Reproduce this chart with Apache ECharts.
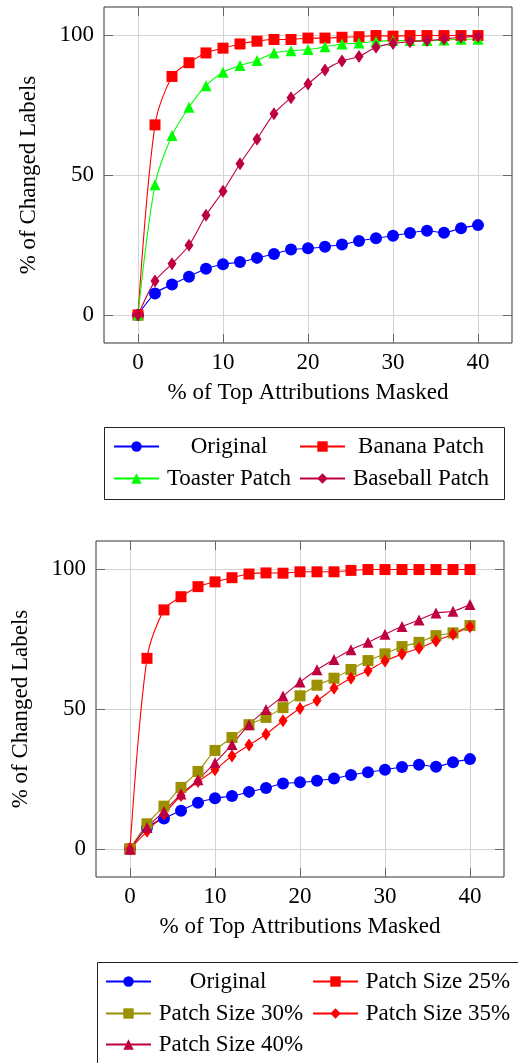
<!DOCTYPE html>
<html>
<head>
<meta charset="utf-8">
<script src="https://cdn.jsdelivr.net/npm/echarts@6/dist/echarts.min.js"></script>
<style>
html,body{margin:0;padding:0;background:#fff;}
#chart{width:518px;height:1063px;}
</style>
</head>
<body>
<div id="chart"></div>
<script>
// ---- data ----
const maskedPct = [0,2,4,6,8,10,12,14,16,18,20,22,24,26,28,30,32,34,36,38,40];
const xTicks = [0,10,20,30,40];
const yTicks = [0,50,100];

// top chart
const original = [0,7.7,10.9,13.7,16.5,18.1,18.9,20.4,21.8,23.4,23.8,24.4,25.2,26.4,27.4,28.3,29.3,30.1,29.4,31.0,32.1];
const bananaPatch = [0,67.9,85.2,90.1,93.6,95.3,96.8,97.8,98.4,98.4,98.9,98.9,99.2,99.4,99.8,99.6,99.8,99.8,99.8,99.8,99.8];
const toasterPatch = [0,46.5,64.1,74.2,81.9,86.7,89.1,90.9,93.6,94.4,94.8,95.8,96.8,97.1,97.7,98.0,98.0,98.0,98.2,98.5,98.5];
const baseballPatch = [0,12.1,18.3,24.9,35.6,44.2,54.0,62.8,71.9,77.6,82.5,87.5,90.7,92.3,95.6,97.0,97.6,98.0,98.6,99.2,99.5];

// bottom chart
const patch25 = [0,68.1,85.4,90.1,93.7,95.4,96.9,98.2,98.6,98.5,99.0,99.0,99.0,99.5,99.8,99.8,99.8,99.8,99.8,99.8,99.8];
const patch30 = [0,9.0,15.3,22.0,27.7,35.2,39.8,44.4,47.0,50.5,54.7,58.5,61.0,64.1,67.3,69.7,72.3,73.8,76.2,77.2,79.8];
const patch35 = [0,6.3,12.5,19.1,24.1,28.3,33.2,37.1,41.0,45.8,50.2,53.0,57.4,61.0,63.7,67.1,69.6,71.7,74.3,76.7,79.4];
const patch40 = [0,7.7,13.4,19.6,24.7,30.8,37.3,44.4,49.8,54.6,59.6,64.0,67.7,71.2,73.8,76.7,79.5,81.8,84.3,84.9,87.3];

const xTitle = '% of Top Attributions Masked';
const yTitle = '% of Changed Labels';

// ---- styling ----
const FONT = '"Liberation Serif", "DejaVu Serif", serif';
const FS = 23;
const C = {
  blue: '#0000ff', red: '#ff0000', green: '#00ff00', purple: '#bf0040', olive: '#9a9000'
};

function pairs(vals){ return maskedPct.map((x,i)=>[x, vals[i]]); }

const tickStyle = {show:true, inside:true, length:9, lineStyle:{color:'#666'}};

function mainX(gi){
  return {
    type:'value', gridIndex:gi, min:-4, max:44, position:'bottom',
    name:xTitle, nameLocation:'middle', nameGap:38,
    nameTextStyle:{fontFamily:FONT, fontSize:FS, color:'#000'},
    axisLine:{show:false, onZero:false},
    axisTick:Object.assign({customValues:xTicks}, tickStyle),
    axisLabel:{fontFamily:FONT, fontSize:FS, color:'#000', margin:8, customValues:xTicks},
    splitLine:{show:true, lineStyle:{color:'#d4d4d4', width:1}}
  };
}
function mirrorX(gi){
  return {
    type:'value', gridIndex:gi, min:-4, max:44, position:'top',
    axisLine:{show:false, onZero:false},
    axisTick:Object.assign({customValues:xTicks}, tickStyle),
    axisLabel:{show:false, customValues:xTicks},
    splitLine:{show:false}
  };
}
function mainY(gi){
  return {
    type:'value', gridIndex:gi, min:-10, max:110, position:'left',
    name:yTitle, nameLocation:'middle', nameGap:64,
    nameTextStyle:{fontFamily:FONT, fontSize:FS, color:'#000'},
    axisLine:{show:false, onZero:false},
    axisTick:Object.assign({customValues:yTicks}, tickStyle),
    axisLabel:{fontFamily:FONT, fontSize:FS, color:'#000', margin:10, customValues:yTicks},
    splitLine:{show:true, lineStyle:{color:'#d4d4d4', width:1}}
  };
}
function mirrorY(gi){
  return {
    type:'value', gridIndex:gi, min:-10, max:110, position:'right',
    axisLine:{show:false, onZero:false},
    axisTick:Object.assign({customValues:yTicks}, tickStyle),
    axisLabel:{show:false, customValues:yTicks},
    splitLine:{show:false}
  };
}

function line(name, vals, color, symbol, size, xi, yi){
  return {
    type:'line', name:name, data:pairs(vals), xAxisIndex:xi, yAxisIndex:yi,
    smooth:0.3, symbol:symbol, symbolSize:size, showAllSymbol:true,
    lineStyle:{color:color, width:1.1}, itemStyle:{color:color},
    emphasis:{disabled:true}, animation:false
  };
}

function legendItem(name, left, rowCenter, textW){
  return {
    data:[name], left:left, top:rowCenter-12, padding:0, itemGap:0,
    itemWidth:45, itemHeight:13, selectedMode:false,
    formatter:'{t|{name}}',
    textStyle:{rich:{t:{width:textW, align:'center', fontFamily:FONT, fontSize:FS, lineHeight:24, color:'#000'}}}
  };
}

const option = {
  animation:false,
  backgroundColor:'#fff',
  grid:[
    {left:104, top:7, width:408, height:336, show:true, borderColor:'#333', borderWidth:1, backgroundColor:'transparent'},
    {left:96, top:541, width:408, height:336, show:true, borderColor:'#333', borderWidth:1, backgroundColor:'transparent'}
  ],
  xAxis:[mainX(0), mirrorX(0), mainX(1), mirrorX(1)],
  yAxis:[mainY(0), mirrorY(0), mainY(1), mirrorY(1)],
  legend:[
    legendItem('Original', 113, 447, 130),
    legendItem('Banana Patch', 299, 447, 142),
    legendItem('Toaster Patch', 113, 479, 130),
    legendItem('Baseball Patch', 299, 479, 142),
    legendItem('Original ', 105, 982, 150),
    legendItem('Patch Size 25%', 312, 982, 150),
    legendItem('Patch Size 30%', 105, 1014, 150),
    legendItem('Patch Size 35%', 312, 1014, 150),
    legendItem('Patch Size 40%', 105, 1045, 150)
  ],
  graphic:[
    {type:'rect', shape:{x:104.5, y:427.5, width:400, height:72}, style:{fill:'none', stroke:'#222', lineWidth:1}, silent:true},
    {type:'rect', shape:{x:97.5, y:962.5, width:440, height:120}, style:{fill:'none', stroke:'#222', lineWidth:1}, silent:true}
  ],
  series:[
    line('Original', original, C.blue, 'circle', 12, 0, 0),
    line('Banana Patch', bananaPatch, C.red, 'rect', 11, 0, 0),
    line('Toaster Patch', toasterPatch, C.green, 'triangle', 11, 0, 0),
    line('Baseball Patch', baseballPatch, C.purple, 'diamond', [9,13], 0, 0),
    line('Original ', original, C.blue, 'circle', 12, 2, 2),
    line('Patch Size 25%', patch25, C.red, 'rect', 11, 2, 2),
    line('Patch Size 30%', patch30, C.olive, 'rect', 11, 2, 2),
    line('Patch Size 35%', patch35, C.red, 'diamond', [9,13], 2, 2),
    line('Patch Size 40%', patch40, C.purple, 'triangle', 11, 2, 2)
  ]
};

const chart = echarts.init(document.getElementById('chart'), null, {renderer:'canvas'});
chart.setOption(option);
</script>
</body>
</html>
